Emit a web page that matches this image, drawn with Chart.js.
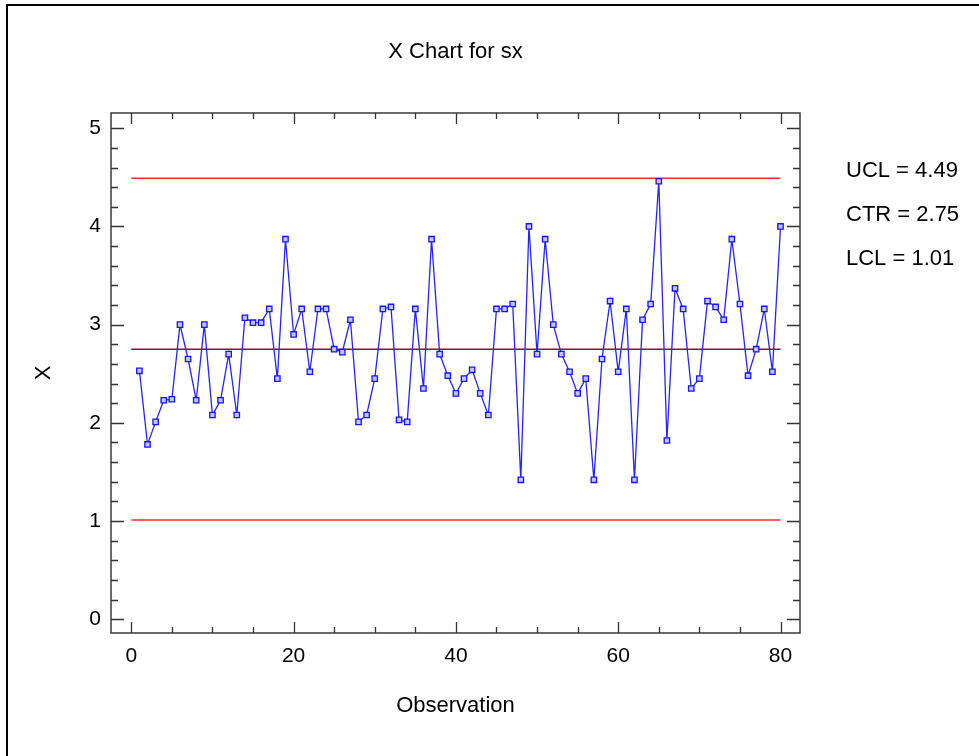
<!DOCTYPE html>
<html><head><meta charset="utf-8">
<script src="https://cdn.jsdelivr.net/npm/chart.js@4/dist/chart.umd.min.js"></script>
<style>
html,body{margin:0;padding:0;background:#fff;overflow:hidden;}
#wrap{position:relative;width:979px;height:756px;overflow:hidden;}
#frame{position:absolute;left:6px;top:4px;width:1100px;height:900px;border-top:2px solid #000;border-left:2px solid #000;}
canvas{position:absolute;left:0;top:0;}
</style></head><body>
<div id="wrap"><div id="frame"></div><canvas id="c" width="979" height="756"></canvas></div>
<script>
const titleText = 'X Chart for sx';
const xTitle = 'Observation';
const yTitle = 'X';
const values = [
  2.53,1.78,2.01,2.23,2.24,3.00,2.65,2.23,3.00,2.08,
  2.23,2.70,2.08,3.07,3.02,3.02,3.16,2.45,3.87,2.90,
  3.16,2.52,3.16,3.16,2.75,2.72,3.05,2.01,2.08,2.45,
  3.16,3.18,2.03,2.01,3.16,2.35,3.87,2.70,2.48,2.30,
  2.45,2.54,2.30,2.08,3.16,3.16,3.21,1.42,4.00,2.70,
  3.87,3.00,2.70,2.52,2.30,2.45,1.42,2.65,3.24,2.52,
  3.16,1.42,3.05,3.21,4.46,1.82,3.37,3.16,2.35,2.45,
  3.24,3.18,3.05,3.87,3.21,2.48,2.75,3.16,2.52,4.00
];
const observations = values.map((v, i) => i + 1);
const UCL = 4.49, CTR = 2.75, LCL = 1.01;
const limitLabels = ['UCL = 4.49', 'CTR = 2.75', 'LCL = 1.01'];
const xTickValues = [0, 20, 40, 60, 80];
const yTickValues = [0, 1, 2, 3, 4, 5];
const xMinorStep = 5, yMinorStep = 0.2;

const FONT = "'Liberation Sans', Arial, sans-serif";

const framePlugin = {
  id: 'framePlugin',
  beforeDatasetsDraw(chart) {
    const {ctx, chartArea: a, scales: {x, y}} = chart;
    ctx.save();
    ctx.strokeStyle = '#333';
    ctx.lineWidth = 1.3;
    ctx.beginPath();
    for (let v = 0; v <= 80 + 1e-9; v += xMinorStep) {
      const px = Math.round(x.getPixelForValue(v)) + 0.5;
      if (px < a.left || px > a.right) continue;
      const len = (v % 20 === 0) ? 11 : 6;
      ctx.moveTo(px, a.bottom); ctx.lineTo(px, a.bottom - len);
      ctx.moveTo(px, a.top); ctx.lineTo(px, a.top + len);
    }
    for (let i = 0; i <= 25; i++) {
      const v = i * yMinorStep;
      const py = Math.round(y.getPixelForValue(v)) + 0.5;
      if (py < a.top || py > a.bottom) continue;
      const len = (i % 5 === 0) ? 13 : 7;
      ctx.moveTo(a.left, py); ctx.lineTo(a.left + len, py);
      ctx.moveTo(a.right, py); ctx.lineTo(a.right - len, py);
    }
    ctx.stroke();
    ctx.strokeStyle = '#3a3a3a';
    ctx.lineWidth = 1.5;
    ctx.strokeRect(a.left, a.top, a.right - a.left, a.bottom - a.top);
    ctx.restore();
  },
  afterDraw(chart) {
    const {ctx, chartArea: a} = chart;
    ctx.save();
    ctx.fillStyle = '#000';
    ctx.font = '22px ' + FONT;
    ctx.textAlign = 'center';
    ctx.textBaseline = 'middle';
    ctx.fillText(titleText, (a.left + a.right) / 2, 52);
    ctx.textAlign = 'left';
    const ys = [171, 215, 259];
    limitLabels.forEach((t, i) => ctx.fillText(t, 846, ys[i]));
    ctx.restore();
  }
};

new Chart(document.getElementById('c'), {
  type: 'line',
  data: {
    datasets: [
      {
        data: observations.map((o, i) => ({x: o, y: values[i]})),
        borderColor: '#2424ff',
        borderWidth: 1.3,
        pointStyle: 'rect',
        pointRadius: 3.8,
        pointBorderColor: '#1414ff',
        pointBackgroundColor: '#c4c4ff',
        pointBorderWidth: 1.3,
        tension: 0
      },
      {data: [{x: 0, y: UCL}, {x: 80, y: UCL}], borderColor: '#ff2b2b', borderWidth: 1.6, pointRadius: 0},
      {data: [{x: 0, y: CTR}, {x: 80, y: CTR}], borderColor: '#7a1a30', borderWidth: 1.6, pointRadius: 0},
      {data: [{x: 0, y: LCL}, {x: 80, y: LCL}], borderColor: '#ff2b2b', borderWidth: 1.6, pointRadius: 0}
    ]
  },
  options: {
    responsive: false,
    animation: false,
    events: [],
    layout: {padding: {top: 113, right: 179, bottom: 0, left: 0}},
    plugins: {legend: {display: false}, tooltip: {enabled: false}, title: {display: false}},
    scales: {
      x: {
        type: 'linear',
        min: -2.5, max: 82.4,
        afterBuildTicks: s => { s.ticks = xTickValues.map(v => ({value: v})); },
        afterFit: s => { s.height = 123; },
        grid: {display: false, drawTicks: false},
        border: {display: false},
        ticks: {color: '#000', font: {family: FONT, size: 21}, padding: 11, maxRotation: 0, autoSkip: false},
        title: {display: true, text: xTitle, color: '#000', font: {family: FONT, size: 22}, padding: {top: 0, bottom: 37}}
      },
      y: {
        type: 'linear',
        min: -0.14, max: 5.155,
        afterBuildTicks: s => { s.ticks = yTickValues.map(v => ({value: v})); },
        afterFit: s => { s.width = 111; },
        grid: {display: false, drawTicks: false},
        border: {display: false},
        ticks: {color: '#000', font: {family: FONT, size: 21}, padding: 10, autoSkip: false},
        title: {display: true, text: yTitle, color: '#000', font: {family: FONT, size: 22}, padding: {top: 31, bottom: 0}}
      }
    }
  },
  plugins: [framePlugin]
});
</script>
</body></html>
